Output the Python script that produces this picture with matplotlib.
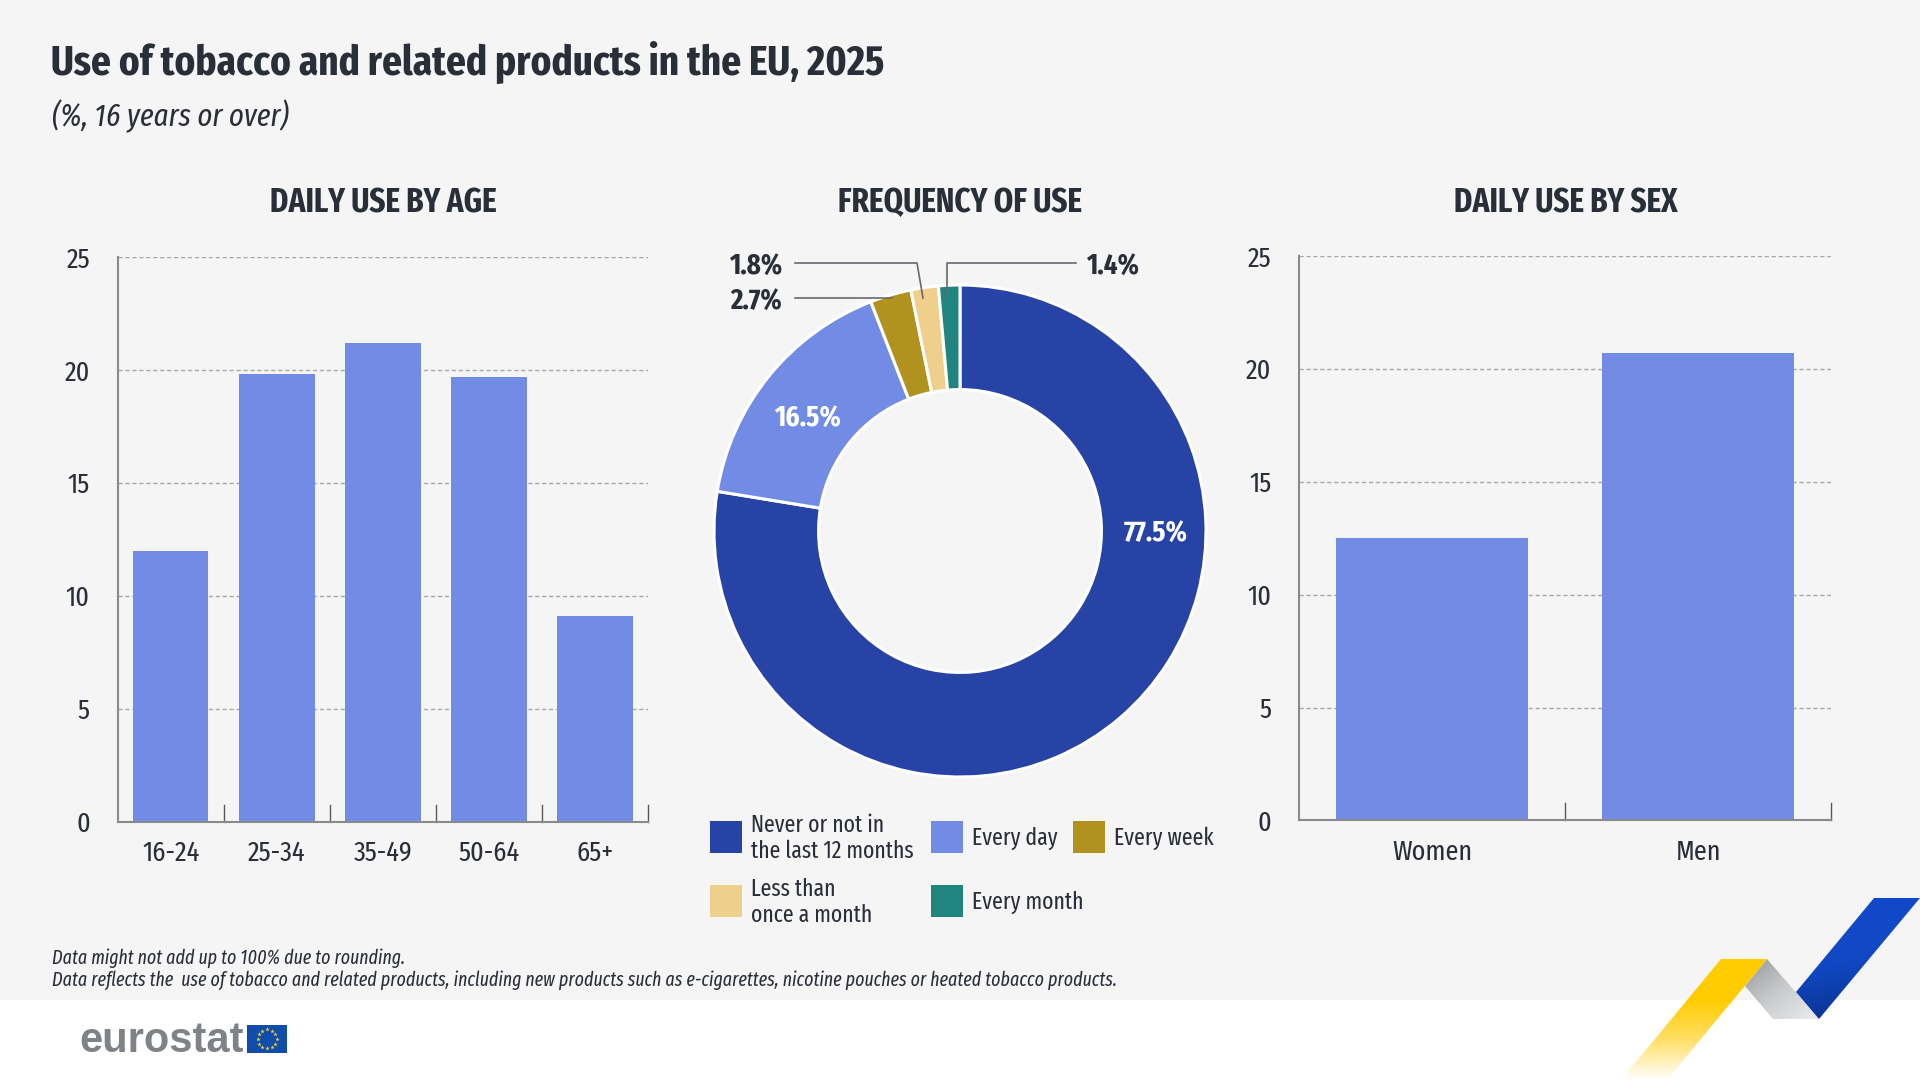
import numpy as np
import matplotlib
matplotlib.use("Agg")
import matplotlib.pyplot as plt
from matplotlib.patches import Polygon, Rectangle
from matplotlib.colors import LinearSegmentedColormap

plt.rcParams['font.family'] = ['Fira Sans Extra Condensed', 'Roboto', 'DejaVu Sans']

# data
age_groups = ['16-24', '25-34', '35-49', '50-64', '65+']
age_values = [12.0, 19.8, 21.2, 19.7, 9.1]
sex_groups = ['Women', 'Men']
sex_values = [12.5, 20.7]
freq_labels = ['Never or not in\nthe last 12 months', 'Every day', 'Every week', 'Less than\nonce a month', 'Every month']
freq_values = [77.5, 16.5, 2.7, 1.8, 1.4]
y_ticks = [0, 5, 10, 15, 20, 25]

W, H = 1920, 1080
BG = '#f5f5f5'
TXT = '#2a2e39'
LIGHT = '#728ce6'
freq_colors = ['#2743a5', LIGHT, '#b2921f', '#eed08c', '#20847f']


def px_axes(x0, y0, x1, y1, **kw):
    # axes position given in image pixels, y going down
    return fig.add_axes([x0 / W, 1 - y1 / H, (x1 - x0) / W, (y1 - y0) / H], **kw)


fig = plt.figure(figsize=(19.2, 10.8), dpi=100, facecolor='white')

# background layer and ribbon decoration
back = px_axes(0, 0, W, H, zorder=0)
back.set_xlim(0, W)
back.set_ylim(H, 0)
back.axis('off')
back.add_patch(Rectangle((0, 0), W, 1000, color=BG, lw=0))


def ribbon(points, colors, angle):
    # polygon filled with a linear gradient
    xs = np.array([p[0] for p in points])
    ys = np.array([p[1] for p in points])
    gx, gy = np.meshgrid(np.linspace(0, 1, 200), np.linspace(0, 1, 200))
    grad = gx * np.cos(angle) + gy * np.sin(angle)
    grad = (grad - grad.min()) / (grad.max() - grad.min())
    cmap = LinearSegmentedColormap.from_list('r', colors)
    im = back.imshow(grad, cmap=cmap, aspect='auto', interpolation='bilinear', zorder=2,
                     extent=(xs.min(), xs.max(), ys.max(), ys.min()))
    poly = Polygon(points, transform=back.transData, fc='none', ec='none')
    back.add_patch(poly)
    im.set_clip_path(poly)


ribbon([(1767, 959), (1819, 1019), (1773, 1019), (1745, 986)], ['#97989c', '#c9cacc', '#ecedee'], 0.8)
ribbon([(1874, 898), (1920, 898), (1819, 1019), (1796, 992)], ['#1149cc', '#1048c4', '#0a2c80'], 1.35)
ribbon([(1721, 959), (1767, 959), (1667, 1080), (1621, 1080)], ['#ffcc00', '#ffcc00', '#ffdf66', '#ffffff'], 1.57)
back.set_xlim(0, W)
back.set_ylim(H, 0)

# flag of the logo
back.add_patch(Rectangle((247, 1025), 40, 27.5, color='#0f4da8', lw=0, zorder=3))
star_angles = np.arange(12) * np.pi / 6
back.scatter(267 + 9.5 * np.cos(star_angles), 1038.8 + 9.5 * np.sin(star_angles),
             marker='*', s=11, color='#f0d040', lw=0, zorder=4)


def bar_panel(x0, y0, x1, y1, cats, vals, width):
    ax = px_axes(x0, y0, x1, y1, zorder=1)
    ax.patch.set_alpha(0)
    ax.bar(range(len(cats)), vals, width=width, color=LIGHT, zorder=3)
    ax.set_xlim(-0.5, len(cats) - 0.5)
    ax.set_ylim(0, 25)
    ax.set_yticks(y_ticks)
    ax.set_xticks(range(len(cats)))
    ax.set_xticklabels(cats)
    ax.tick_params(axis='both', length=0, labelsize=20.5, labelcolor=TXT)
    ax.tick_params(axis='y', pad=20)
    ax.tick_params(axis='x', pad=13)
    ax.grid(axis='y', color='#a8a8a8', lw=1, ls=(0, (3, 2)), zorder=1)
    for side in ['top', 'right']:
        ax.spines[side].set_visible(False)
    for side in ['left', 'bottom']:
        ax.spines[side].set_color('#8a8a8a')
        ax.spines[side].set_linewidth(1.5)
        ax.spines[side].set_zorder(4)
    # separators between the categories
    for b in np.arange(len(cats)) + 0.5:
        ax.plot([b, b], [0, 17 / (y1 - y0) * 25], color='#555a60', lw=1, zorder=4, clip_on=False)
    return ax


bar_panel(117.6, 257, 648, 821.6, age_groups, age_values, 0.713)
bar_panel(1299, 256, 1831, 820.4, sex_groups, sex_values, 0.72)

# donut
ax_pie = px_axes(714, 285, 1206, 777, zorder=1)
ax_pie.pie(freq_values, colors=freq_colors, startangle=90, counterclock=False, radius=1,
           wedgeprops=dict(width=0.425, edgecolor='white', linewidth=2.2))
ax_pie.set_xlim(-1, 1)
ax_pie.set_ylim(-1, 1)
for p in ax_pie.patches:
    p.set_clip_on(False)

# front layer with the texts and leader lines
top = px_axes(0, 0, W, H, zorder=5)
top.set_xlim(0, W)
top.set_ylim(H, 0)
top.axis('off')

top.text(51, 62, 'Use of tobacco and related products in the EU, 2025', fontsize=30.6, fontweight='bold',
         color=TXT, va='center')
top.text(52, 116, '(%, 16 years or over)', fontsize=22.5, style='italic', color=TXT, va='center')
top.text(383, 203, 'DAILY USE BY AGE', fontsize=24.3, fontweight='bold', color=TXT, ha='center', va='center')
top.text(960, 203, 'FREQUENCY OF USE', fontsize=24.3, fontweight='bold', color=TXT, ha='center', va='center')
top.text(1566, 203, 'DAILY USE BY SEX', fontsize=24.3, fontweight='bold', color=TXT, ha='center', va='center')

top.text(1156, 533, f'{freq_values[0]}%', fontsize=21, fontweight='bold', color='white', ha='center', va='center')
top.text(807, 418, f'{freq_values[1]}%', fontsize=21, fontweight='bold', color='white', ha='center', va='center')
top.text(782, 301, f'{freq_values[2]}%', fontsize=21, fontweight='bold', color=TXT, ha='right', va='center')
top.text(782, 266, f'{freq_values[3]}%', fontsize=21, fontweight='bold', color=TXT, ha='right', va='center')
top.text(1086, 266, f'{freq_values[4]}%', fontsize=21, fontweight='bold', color=TXT, ha='left', va='center')

top.plot([795, 917, 923], [263, 263, 298], color='#666a70', lw=1.2)
top.plot([795, 892], [298, 298], color='#666a70', lw=1.2)
top.plot([1076, 947, 947], [263, 263, 298], color='#666a70', lw=1.2)

# legend
legend_pos = [(710, 821), (931, 821), (1073, 821), (710, 885), (931, 885)]
for (lx, ly), name, col in zip(legend_pos, freq_labels, freq_colors):
    top.add_patch(Rectangle((lx, ly), 32, 32, color=col, lw=0))
    top.text(lx + 41, ly + 17, name, fontsize=17, color=TXT, va='center', linespacing=1.13)

top.text(52, 958, 'Data might not add up to 100% due to rounding.', fontsize=14, style='italic', color=TXT, va='center')
top.text(52, 980, 'Data reflects the  use of tobacco and related products, including new products such as '
         'e-cigarettes, nicotine pouches or heated tobacco products.', fontsize=14, style='italic', color=TXT, va='center')

top.text(79, 1041, 'eurostat', fontsize=30, fontweight='bold', family='Liberation Sans', color='#7f8389', va='center')

fig.savefig('out.png', dpi=100, facecolor=fig.get_facecolor())
